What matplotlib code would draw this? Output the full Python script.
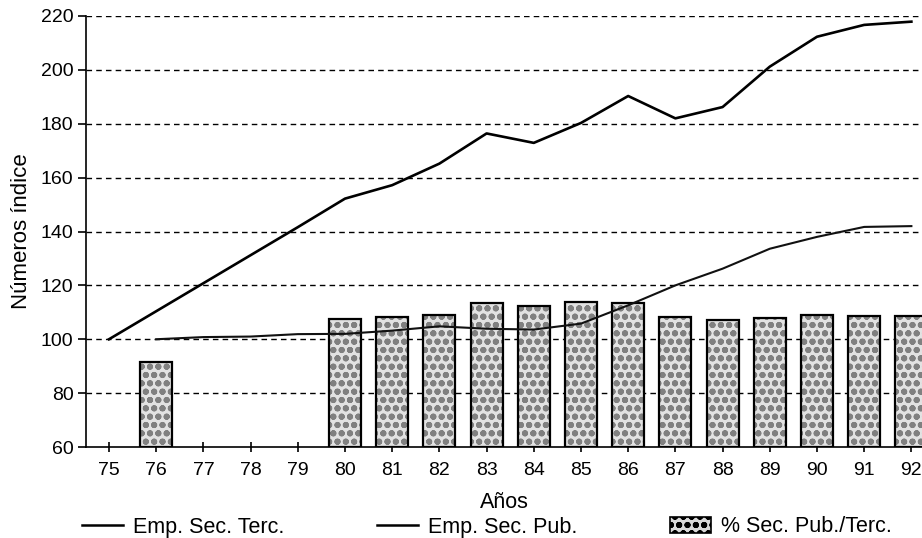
import matplotlib
matplotlib.use("Agg")
import matplotlib.pyplot as plt
from matplotlib.patches import Patch
from matplotlib.lines import Line2D

plt.rcParams['font.family'] = ['Liberation Sans', 'DejaVu Sans']
plt.rcParams['hatch.linewidth'] = 2.0

years = [75, 76, 77, 78, 79, 80, 81, 82, 83, 84, 85, 86, 87, 88, 89, 90, 91, 92]
year_labels = [str(y) for y in years]
emp_terc = [100, 110.4, 120.8, 131.2, 141.6, 152.2, 157.2, 165.2, 176.4, 172.9,
            180.3, 190.3, 182.0, 186.2, 201.2, 212.3, 216.7, 217.9]
pub_years = [76, 77, 78, 79, 80, 81, 82, 83, 84, 85, 86, 87, 88, 89, 90, 91, 92]
emp_pub = [100, 100.8, 101.0, 101.9, 102.0, 103.2, 104.8, 103.9, 103.6, 105.8,
           112.6, 120.0, 126.2, 133.6, 138.0, 141.7, 142.0]
bar_years = [76, 80, 81, 82, 83, 84, 85, 86, 87, 88, 89, 90, 91, 92]
pct_pub = [91.5, 107.4, 108.3, 109.1, 113.3, 112.4, 113.7, 113.3, 108.3, 107.2,
           108.0, 108.9, 108.6, 108.6]
yticks = [60, 80, 100, 120, 140, 160, 180, 200, 220]

fig = plt.figure(figsize=(9.22, 5.38), dpi=100)
ax = fig.add_axes([86/922, 1-447/538, 836/922, (447-16)/538])

base = 60
heights = [v - base for v in pct_pub]
ax.bar(bar_years, heights, bottom=base, width=0.68, color='#e2e2e2',
       edgecolor='#808080', hatch='oo', linewidth=0, zorder=3)
ax.bar(bar_years, heights, bottom=base, width=0.68, fill=False,
       edgecolor='black', linewidth=1.6, zorder=4)

ax.plot(years, emp_terc, color='black', lw=1.9, zorder=5)
ax.plot(pub_years, emp_pub, color='#111111', lw=1.5, zorder=5)

ax.set_xlim(74.513, 92.225)
ax.set_ylim(60, 220)
ax.set_yticks(yticks)
ax.set_xticks(years)
ax.set_xticklabels(year_labels)
for y in yticks[1:]:
    ax.axhline(y, color='black', lw=1.0, ls=(0, (4, 3)), zorder=1)

for s in ['top', 'right']:
    ax.spines[s].set_visible(False)
ax.spines['left'].set_linewidth(1.2)
ax.spines['bottom'].set_linewidth(1.2)
ax.tick_params(axis='y', direction='out', length=6, width=1.2, labelsize=14, pad=3)
ax.tick_params(axis='x', direction='inout', length=7, width=1.2, labelsize=14, pad=7)
ax.set_ylabel('Números índice', fontsize=16, labelpad=6)
ax.set_xlabel('Años', fontsize=15.5, labelpad=10)

handles = [Line2D([], [], color='black', lw=1.8),
           Line2D([], [], color='black', lw=1.8),
           Patch(facecolor='#d8d8d8', edgecolor='black', hatch='oo', linewidth=1.2)]
labels = ['Emp. Sec. Terc.', 'Emp. Sec. Pub.', '% Sec. Pub./Terc.']
fig.legend(handles, labels, loc='center left', bbox_to_anchor=(82/922, 1-527/538),
           ncol=3, frameon=False, fontsize=15.5, handlelength=1.9,
           columnspacing=4.3, handletextpad=0.47, borderaxespad=0, borderpad=0)

fig.savefig('out.png', dpi=100)
